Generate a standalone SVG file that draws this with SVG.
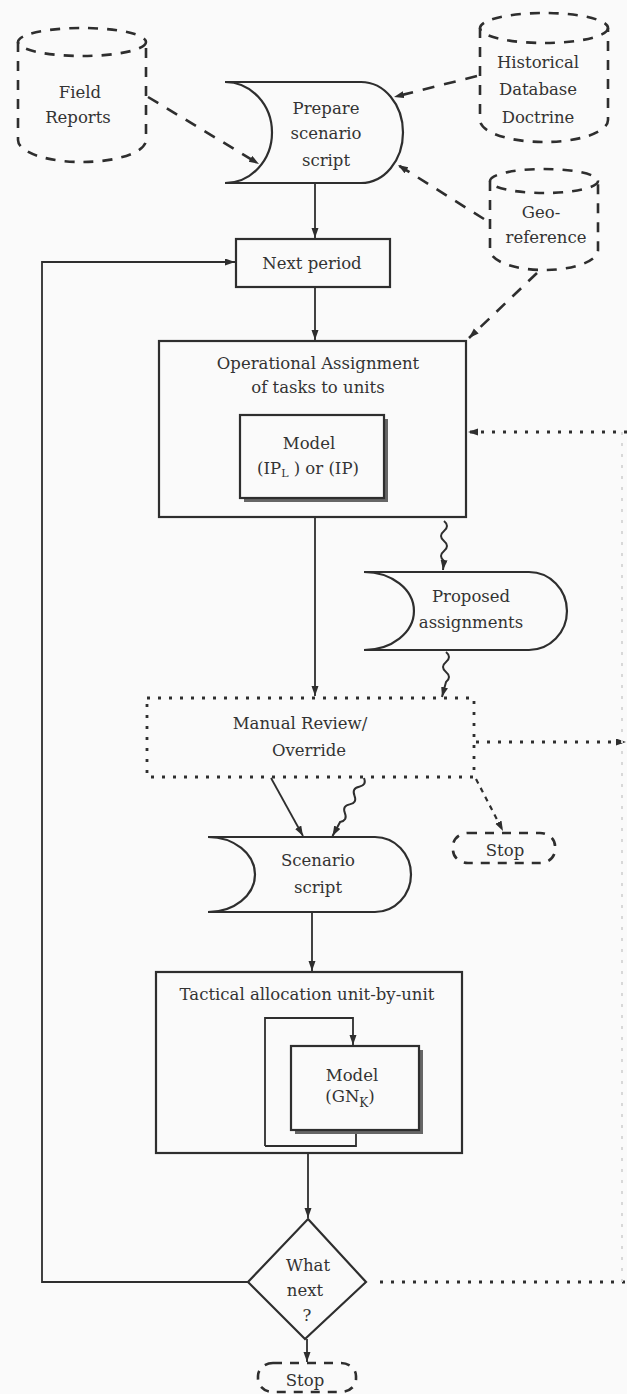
<svg xmlns="http://www.w3.org/2000/svg" width="627" height="1394" viewBox="0 0 627 1394">
<style>
.bg{fill:#fafafa}
.shape{fill:#fafafa;stroke:#2e2e2e;stroke-width:2.2}
.cloud{fill:none;stroke:#2e2e2e;stroke-width:2.6;stroke-dasharray:10 9}
.line{fill:none;stroke:#2e2e2e;stroke-width:1.8}
.dash{fill:none;stroke:#2e2e2e;stroke-width:2.6;stroke-dasharray:12 10}
.dot{fill:none;stroke:#2e2e2e;stroke-width:2.8;stroke-dasharray:3 8}
.faint{fill:none;stroke:#d8d8d8;stroke-width:2;stroke-dasharray:3 8}
.wave{fill:none;stroke:#2e2e2e;stroke-width:2}
.shadow{fill:#666}
text{font-family:"DejaVu Serif","Liberation Serif",serif;font-size:16.5px;fill:#333;text-anchor:middle}
</style>
<defs>
<marker id="ah" markerUnits="userSpaceOnUse" markerWidth="11" markerHeight="8" refX="10" refY="3.5" orient="auto">
<path d="M0,0 L10,3.5 L0,7 z" fill="#2e2e2e"/>
</marker>
</defs>
<rect class="bg" x="0" y="0" width="627" height="1394"/>

<g id="connectors">
<path class="line" d="M315,183 V238" marker-end="url(#ah)"/>
<path class="line" d="M315,287 V340" marker-end="url(#ah)"/>
<path class="line" d="M315,517 V696" marker-end="url(#ah)"/>
<path class="line" d="M271,778 L303,836" marker-end="url(#ah)"/>
<path class="line" d="M312,912 V971" marker-end="url(#ah)"/>
<path class="line" d="M308,1153 V1218" marker-end="url(#ah)"/>
<path class="line" d="M307,1339 V1362" marker-end="url(#ah)"/>
<path class="line" d="M248,1282 H42 V262 H235" marker-end="url(#ah)"/>
<path class="dash" d="M148,97 L259,164" marker-end="url(#ah)"/>
<path class="dash" d="M477,76 L394,97" marker-end="url(#ah)"/>
<path class="dash" d="M484,219 L398,165" marker-end="url(#ah)"/>
<path class="dash" d="M537,273 L469,338" marker-end="url(#ah)"/>
<path class="dot" d="M627,432 H468" marker-end="url(#ah)"/>
<path class="dot" d="M476,742 H626" marker-end="url(#ah)"/>
<path class="dot" d="M380,1282 H627"/>
<path class="faint" d="M622,432 V1282"/>
<path class="line" style="stroke-dasharray:5 5;stroke-width:2.2" d="M476,779 L503,831" marker-end="url(#ah)"/>
<path class="wave" d="M444,521 q6,5 0,10 t0,10 t0,10 t0,10 L443,570" marker-end="url(#ah)"/>
<path class="wave" d="M446,652 q6,5 0,10 t0,10 t0,10 L442,697" marker-end="url(#ah)"/>
<g transform="translate(364,778) rotate(28.5)">
<path class="wave" d="M0,0 q6,5 0,10 t0,10 t0,10 t0,10 t0,10 L0,66" marker-end="url(#ah)"/>
</g>
</g>

<g id="field-reports">
<ellipse class="cloud" cx="82" cy="42" rx="64" ry="14"/>
<path class="cloud" d="M18,42 V140 A64,22 0 0 0 146,140 V42"/>
<text x="80" y="98">Field</text>
<text x="78" y="123">Reports</text>
</g>

<g id="historical">
<ellipse class="cloud" cx="544" cy="28" rx="64" ry="15"/>
<path class="cloud" d="M480,28 V120 A64,22 0 0 0 608,120 V28"/>
<text x="538" y="68">Historical</text>
<text x="538" y="95">Database</text>
<text x="538" y="123">Doctrine</text>
</g>

<g id="georeference">
<ellipse class="cloud" cx="544" cy="181" rx="54" ry="12"/>
<path class="cloud" d="M490,181 V250 A54,20 0 0 0 598,250 V181"/>
<text x="541" y="218">Geo-</text>
<text x="546" y="243">reference</text>
</g>

<g id="prepare">
<path class="shape" d="M225,82 H361 A42,50.5 0 0 1 361,183 H225 A47,50.5 0 0 0 225,82 Z"/>
<text x="326" y="114">Prepare</text>
<text x="326" y="139">scenario</text>
<text x="326" y="166">script</text>
</g>

<g id="next-period">
<rect class="shape" x="236" y="239" width="154" height="48"/>
<text x="312" y="269">Next period</text>
</g>

<g id="operational">
<rect class="shape" x="159" y="341" width="307" height="176"/>
<text x="318" y="369">Operational Assignment</text>
<text x="318" y="393">of tasks to units</text>
<rect class="shadow" x="244" y="419" width="144" height="83"/>
<rect class="shape" x="240" y="415" width="144" height="83"/>
<text x="309" y="449">Model</text>
<text x="308" y="474">(IP<tspan font-size="11" dy="3">L</tspan><tspan dy="-3"> ) or (IP)</tspan></text>
</g>

<g id="proposed">
<path class="shape" d="M364,572 H529 A38,39 0 0 1 529,650 H364 A50,39 0 0 0 364,572 Z"/>
<text x="471" y="602">Proposed</text>
<text x="471" y="628">assignments</text>
</g>

<g id="manual-review">
<rect class="dot" x="147" y="698" width="327" height="79"/>
<text x="300" y="729">Manual Review/</text>
<text x="309" y="756">Override</text>
</g>

<g id="stop-1">
<rect class="cloud" style="stroke-dasharray:9 8" x="453" y="833" width="102" height="30" rx="15" ry="13"/>
<text x="505" y="856">Stop</text>
</g>

<g id="scenario">
<path class="shape" d="M208,837 H375 A36,37.5 0 0 1 375,912 H208 A47,37.5 0 0 0 208,837 Z"/>
<text x="318" y="866">Scenario</text>
<text x="318" y="893">script</text>
</g>

<g id="tactical">
<rect class="shape" x="156" y="972" width="306" height="181"/>
<text x="307" y="1000">Tactical allocation unit-by-unit</text>
<path class="line" d="M265,1146 V1018 H353 V1045" marker-end="url(#ah)"/>
<path class="line" d="M265,1146 H356 V1134"/>
<rect class="shadow" x="295" y="1050" width="128" height="84"/>
<rect class="shape" x="291" y="1046" width="128" height="84"/>
<text x="352" y="1081">Model</text>
<text x="350" y="1102">(GN<tspan font-size="12" dy="5">K</tspan><tspan dy="-5">)</tspan></text>
</g>

<g id="what-next">
<path class="shape" d="M308,1219 L366,1282 L305,1339 L248,1282 Z"/>
<text x="308" y="1271">What</text>
<text x="305" y="1296">next</text>
<text x="307" y="1321">?</text>
</g>

<g id="stop-2">
<rect class="cloud" style="stroke-dasharray:9 8" x="258" y="1363" width="98" height="29" rx="15" ry="13"/>
<text x="305" y="1386">Stop</text>
</g>
</svg>
